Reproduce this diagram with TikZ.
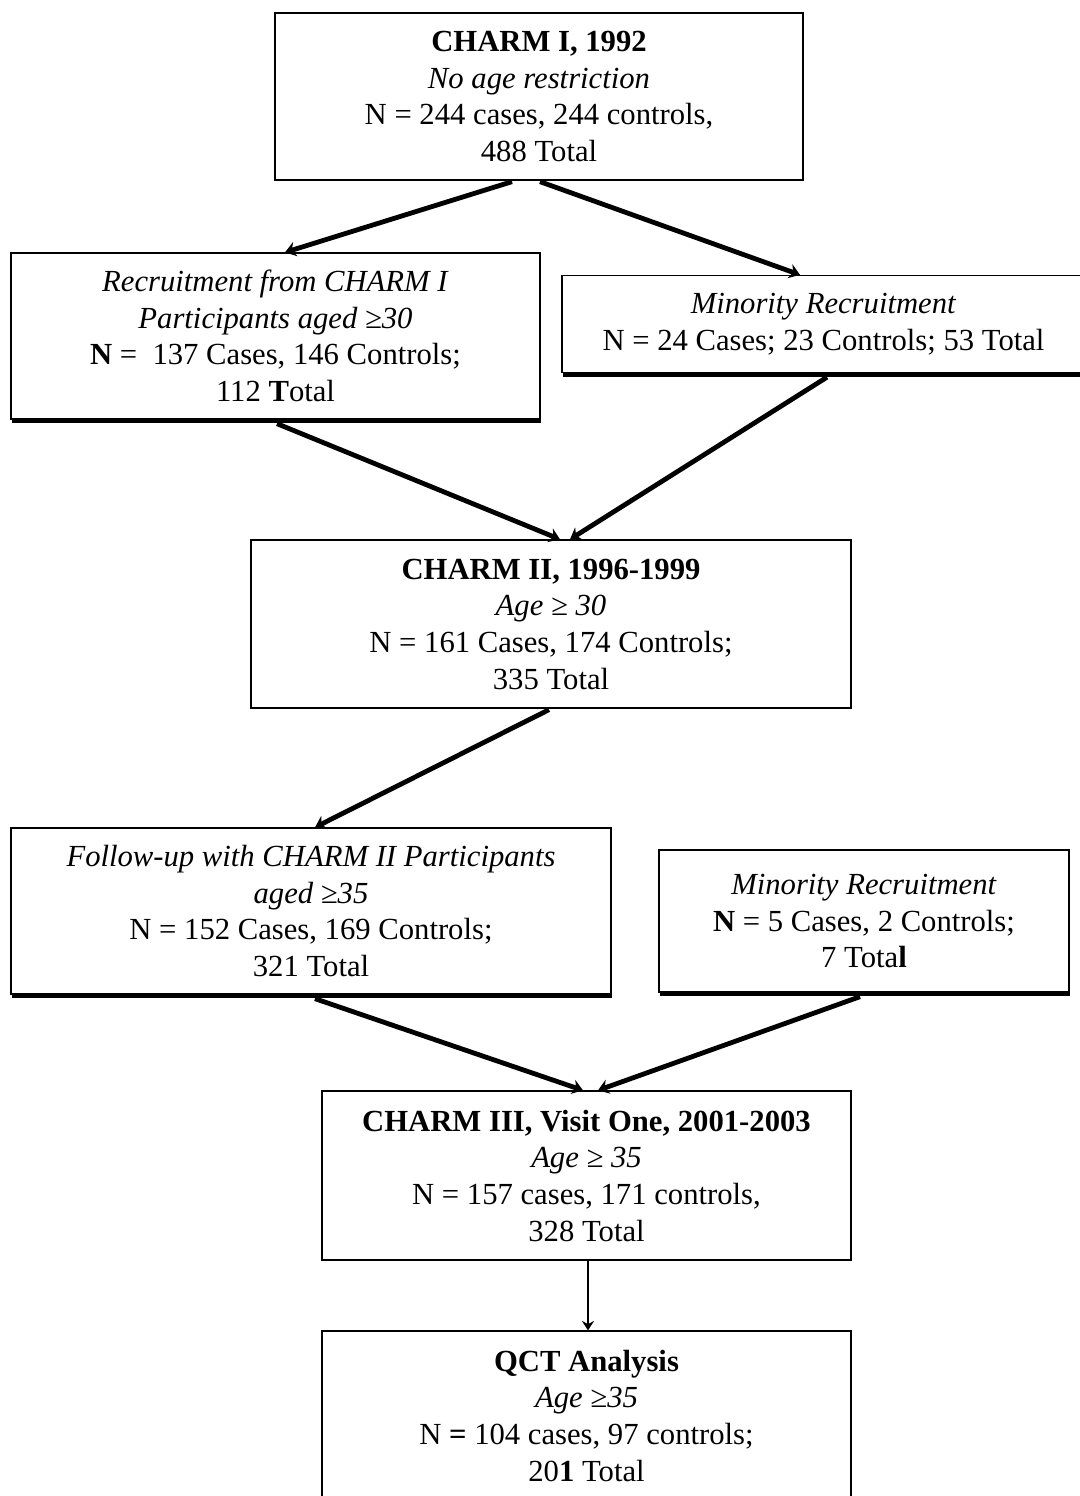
\documentclass[tikz,border=0pt]{standalone}
\usepackage{fontspec}
\setmainfont{Liberation Serif}
\usepackage{tikz}
\usetikzlibrary{arrows.meta,calc}
\usetikzlibrary{shadows}

\begin{document}
\begin{tikzpicture}[x=0.75pt, y=-0.75pt, >=Stealth,
  box/.style={draw, line width=1pt, fill=white, inner sep=0pt, align=center,
    font=\fontsize{23pt}{27.5pt}\selectfont},
  shadowbox/.style={box, drop shadow={shadow xshift=0.8pt, shadow yshift=-3pt,
    opacity=1, fill=black}},
  flow/.style={line width=3.6pt, arrows={-Stealth[length=8pt,width=11pt]}},
  thinflow/.style={line width=1.8pt, arrows={-Stealth[length=7pt,width=9pt]}}]

\useasboundingbox (0,0) rectangle (1079,1496);

\def\gesign{≥}

\node[box, minimum width=396pt, minimum height=125.25pt] (charmI) at (539,96.5)
  {\textbf{CHARM I, 1992}\\ \textit{No age restriction}\\
   N = 244 cases, 244 controls,\\ 488 Total};

\node[shadowbox, minimum width=396.75pt, minimum height=124.5pt] (recruit) at (275.5,336)
  {\textit{Recruitment from CHARM I}\\ \textit{Participants aged \gesign30}\\
   \textbf{N} =~ 137 Cases, 146 Controls;\\ 112 \textbf{T}otal};

\node[shadowbox, minimum width=392.25pt, minimum height=72.75pt] (minorI) at (823.5,324)
  {\textit{Minority Recruitment}\\ N = 24 Cases; 23 Controls; 53 Total};

\node[box, minimum width=450pt, minimum height=126pt] (charmII) at (551,624)
  {\textbf{CHARM II, 1996-1999}\\ \textit{Age \gesign\ 30}\\
   N = 161 Cases, 174 Controls;\\ 335 Total};

\node[shadowbox, minimum width=450pt, minimum height=124.5pt] (followup) at (311,911)
  {\textit{Follow-up with CHARM II Participants}\\ \textit{aged \gesign35}\\
   N = 152 Cases, 169 Controls;\\ 321 Total};

\node[shadowbox, minimum width=307.5pt, minimum height=106.5pt] (minorII) at (864,921)
  {\textit{Minority Recruitment}\\ \textbf{N} = 5 Cases, 2 Controls;\\ 7 Tota\textbf{l}};

\node[box, minimum width=396.75pt, minimum height=126.75pt] (charmIII) at (586.5,1175.5)
  {\textbf{CHARM III, Visit One, 2001-2003}\\ \textit{Age \gesign\ 35}\\
   N = 157 cases, 171 controls,\\ 328 Total};

\node[box, minimum width=396.75pt, minimum height=126.75pt] (qct) at (586.5,1415.5)
  {\textbf{QCT Analysis}\\ \textit{Age \gesign35}\\
   N \textbf{=} 104 cases, 97 controls;\\ 20\textbf{1} Total};

\draw[flow] ($(charmI.south)+(-27,1)$) -- ($(recruit.north)+(9.5,0)$);

\draw[flow] ($(charmI.south)+(1,1)$) -- ($(minorI.north)+(-23.5,0)$);

\draw[flow] ($(recruit.south)+(1.5,4)$) -- ($(charmII.north)+(9,0)$);

\draw[flow] ($(minorI.south)+(3.5,4)$) -- ($(charmII.north)+(19,0)$);

\draw[flow] ($(charmII.south)+(-2,1)$) -- ($(followup.north)+(4,0)$);

\draw[flow] ($(followup.south)+(4,4)$) -- ($(charmIII.north)+(-3.5,0)$);

\draw[flow] ($(minorII.south)+(-4,4)$) -- ($(charmIII.north)+(11.5,0)$);

\draw[thinflow] ($(charmIII.south)+(1.5,0)$) -- ($(qct.north)+(1.5,0)$);

\end{tikzpicture}
\end{document}
